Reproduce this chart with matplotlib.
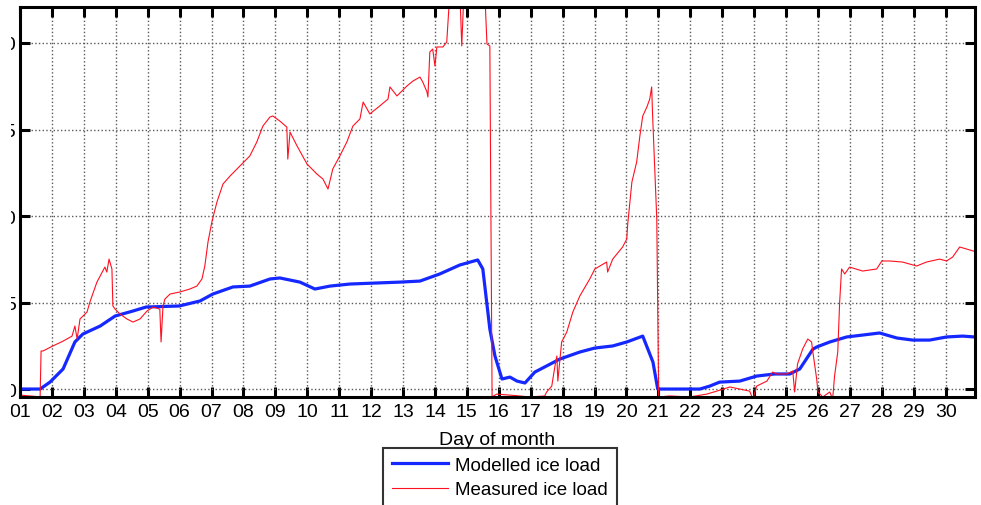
import matplotlib
matplotlib.use('Agg')
import matplotlib.pyplot as plt
from matplotlib.patches import Rectangle

plt.rcParams['font.family'] = ['Liberation Sans', 'DejaVu Sans']

# Modelled ice load (day of month, load)
model_day = [1.00, 1.56, 1.63, 1.94, 2.35, 2.72, 2.97, 3.51, 3.98, 4.54, 4.95, 5.99,
             6.64, 7.04, 7.67, 8.20, 8.83, 9.14, 9.77, 10.24, 10.71, 11.34, 12.90,
             13.53, 14.15, 14.78, 15.34, 15.50, 15.72, 15.88, 16.10, 16.35, 16.57,
             16.82, 17.13, 17.91, 18.54, 19.01, 19.57, 20.01, 20.51, 20.83, 20.98,
             22.30, 22.61, 22.92, 23.55, 24.08, 24.64, 25.12, 25.43, 25.84, 25.96,
             26.37, 26.90, 27.40, 27.93, 28.47, 28.97, 29.50, 30.03, 30.53, 30.91]
model_load = [0.0, 0.0, 0.0, 0.40, 1.16, 2.72, 3.18, 3.64, 4.22, 4.51, 4.74, 4.80,
              5.09, 5.49, 5.90, 5.95, 6.36, 6.42, 6.18, 5.78, 5.95, 6.07, 6.18,
              6.24, 6.65, 7.17, 7.46, 6.94, 3.47, 1.91, 0.58, 0.69, 0.46,
              0.35, 0.98, 1.73, 2.14, 2.37, 2.49, 2.72, 3.06, 1.56, 0.0,
              0.0, 0.17, 0.40, 0.46, 0.75, 0.87, 0.87, 1.16, 2.30, 2.43,
              2.72, 3.01, 3.12, 3.24, 2.95, 2.83, 2.83, 3.01, 3.06, 3.01]

# Measured ice load (day of month, load); values above 22 run off the top of the plot
meas_day = [1.00, 1.31, 1.63, 1.66, 1.72, 2.03, 2.35, 2.63, 2.72, 2.79, 2.88, 3.10,
            3.19, 3.41, 3.51, 3.66, 3.72, 3.79, 3.88, 3.91, 3.98, 4.13, 4.35, 4.54,
            4.76, 4.98, 5.17, 5.38, 5.42, 5.48, 5.54, 5.70, 6.01, 6.32, 6.54, 6.70,
            6.79, 6.89, 7.01, 7.17, 7.36, 7.58, 7.89, 8.20, 8.42, 8.61, 8.83, 8.92,
            9.14, 9.36, 9.39, 9.46, 9.68, 9.99, 10.30, 10.49, 10.65, 10.80, 11.02,
            11.24, 11.43, 11.65, 11.75, 11.96, 12.27, 12.53, 12.59, 12.81, 13.12,
            13.31, 13.53, 13.62, 13.75, 13.78, 13.84, 13.93, 14.00, 14.06, 14.25,
            14.37, 14.47, 14.78, 14.84, 14.91, 15.56, 15.63, 15.72, 15.79, 15.94,
            16.35, 16.66, 16.97, 17.44, 17.50, 17.66, 17.76, 17.82, 17.85, 17.97,
            18.13, 18.32, 18.54, 18.85, 19.01, 19.38, 19.41, 19.57, 19.88, 20.01,
            20.04, 20.17, 20.32, 20.42, 20.51, 20.64, 20.73, 20.79, 20.82, 20.95,
            21.01, 21.36, 21.98, 22.52, 22.83, 23.24, 23.55, 23.86, 23.96, 24.08,
            24.40, 24.58, 24.71, 25.02, 25.21, 25.27, 25.36, 25.52, 25.68, 25.80,
            25.84, 25.96, 26.00, 26.15, 26.37, 26.46, 26.52, 26.62, 26.68, 26.74,
            26.84, 26.99, 27.40, 27.84, 28.00, 28.25, 28.65, 29.09, 29.40, 29.81,
            30.03, 30.22, 30.44, 30.66, 30.97]
meas_load = [-0.35, -0.40, -0.45, 2.20, 2.20, 2.49, 2.77, 3.06, 3.64, 2.89, 4.05, 4.45,
             5.03, 6.18, 6.53, 7.05, 6.76, 7.51, 6.94, 4.80, 4.62, 4.34, 4.05, 3.87,
             4.05, 4.51, 4.74, 4.62, 2.72, 4.80, 5.20, 5.49, 5.61, 5.78, 5.95, 6.36,
             7.11, 8.50, 9.65, 10.81, 11.85, 12.31, 12.89, 13.47, 14.28, 15.20, 15.72, 15.78,
             15.49, 15.14, 13.29, 14.85, 14.05, 13.01, 12.43, 12.14, 11.56, 12.72, 13.47,
             14.28, 15.20, 15.61, 16.59, 15.90, 16.36, 16.76, 17.46, 16.94, 17.51,
             17.80, 18.03, 17.74, 17.17, 16.88, 19.48, 19.65, 18.67, 19.77, 19.77,
             20.06, 23.0, 23.0, 19.83, 23.0, 23.0, 19.94, 19.83, -0.45, -0.29,
             -0.35, -0.40, -0.46, -0.40, -0.17, 0.17, 1.33, 1.91, 0.46, 2.72,
             3.29, 4.45, 5.38, 6.36, 6.94, 7.34, 6.76, 7.51, 8.21, 8.67,
             9.54, 11.96, 13.12, 14.62, 15.78, 16.30, 16.76, 17.46, 15.78, 9.83,
             -0.46, -0.40, -0.46, -0.29, -0.12, 0.12, 0.0, -0.12, -0.58, 0.17,
             0.46, 0.98, 0.87, 0.87, 1.04, -0.17, 1.45, 2.31, 2.89, 2.72,
             2.14, 0.58, -0.17, -0.46, -0.17, -0.58, 0.75, 2.14, 5.03, 6.94,
             6.65, 7.05, 6.82, 6.94, 7.40, 7.40, 7.34, 7.11, 7.34, 7.51,
             7.40, 7.63, 8.21, 8.09, 7.92]

day_ticks = list(range(1, 31))
day_labels = ['%02d' % d for d in day_ticks]
load_ticks = [0, 5, 10, 15, 20]

fig = plt.figure(figsize=(9.81, 5.06), dpi=100)
ax = fig.add_axes([20 / 981, 108 / 506, 955 / 981, 390 / 506])

ax.plot(model_day, model_load, color='#1428ff', linewidth=2.3, label='Modelled ice load')
ax.plot(meas_day, meas_load, color='#ff1020', linewidth=0.8, label='Measured ice load')

ax.set_xlim(1, 30.92)
ax.set_ylim(-0.46, 22.08)
ax.set_xticks(day_ticks)
ax.set_xticklabels(day_labels)
ax.set_yticks(load_ticks)
ax.grid(True, linestyle=':', color='0.35', linewidth=1.0)
ax.tick_params(direction='in', length=7, width=2.2, top=True, right=True,
               labelsize=14, color='black')
ax.tick_params(axis='x', pad=4)
ax.tick_params(axis='y', pad=3)
for sp in ax.spines.values():
    sp.set_linewidth(2.2)
    sp.set_color('black')
ax.set_xlabel('Day of month', fontsize=14, labelpad=8)

leg = fig.legend(loc='upper center', bbox_to_anchor=(500 / 981, 1 - 449 / 506),
                 fontsize=13.5, frameon=True, fancybox=False, handlelength=3.0,
                 borderpad=0.45, labelspacing=0.4, handletextpad=0.4,
                 borderaxespad=0)
leg.get_frame().set_edgecolor('black')
leg.get_frame().set_linewidth(1.5)

# image is cropped at the left edge in the original
fig.add_artist(Rectangle((0, 0), 11 / 981, 1, transform=fig.transFigure,
                         facecolor='white', edgecolor='none', zorder=10))

fig.savefig('out.png', dpi=100)
